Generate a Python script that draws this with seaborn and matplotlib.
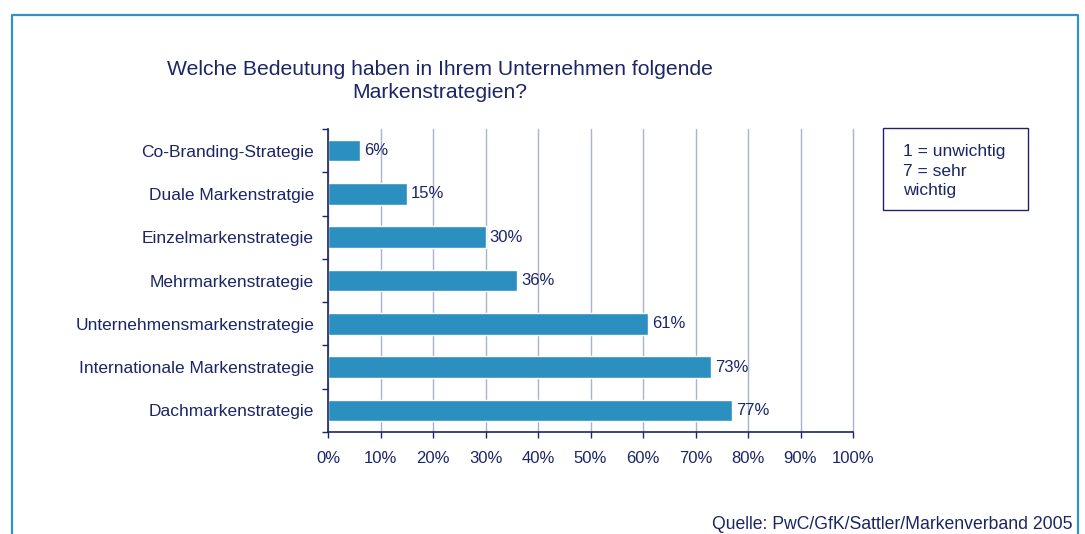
import matplotlib
matplotlib.use("Agg")
import matplotlib.pyplot as plt
import seaborn as sns
from matplotlib.lines import Line2D
from matplotlib.patches import Rectangle

categories = [
    "Co-Branding-Strategie",
    "Duale Markenstratgie",
    "Einzelmarkenstrategie",
    "Mehrmarkenstrategie",
    "Unternehmensmarkenstrategie",
    "Internationale Markenstrategie",
    "Dachmarkenstrategie",
]
values = [6, 15, 30, 36, 61, 73, 77]
x_ticks = [0, 10, 20, 30, 40, 50, 60, 70, 80, 90, 100]
title = "Welche Bedeutung haben in Ihrem Unternehmen folgende\nMarkenstrategien?"
legend_text = "1 = unwichtig\n7 = sehr\nwichtig"
source = "Quelle: PwC/GfK/Sattler/Markenverband 2005"

W, H = 1085, 534
navy = "#1c2566"
bar_col = "#2b8fc0"
grid_col = "#aab2cc"

sns.set_theme(style="white")
plt.rcParams["font.family"] = ["Liberation Sans", "DejaVu Sans"]


def fx(x):
    return x / W


def fy(y):
    return 1 - y / H


fig = plt.figure(figsize=(W / 100, H / 100), dpi=100)
ax = fig.add_axes([fx(328), fy(432), fx(853) - fx(328), fy(129) - fy(432)])

sns.barplot(x=values, y=categories, color=bar_col, width=0.5, orient="h",
            saturation=1, ax=ax)

ax.set_xlim(0, 100)
ax.set_ylim(len(categories) - 0.5, -0.5)
ax.set_xticks(x_ticks)
ax.set_xticklabels([f"{t}%" for t in x_ticks])
ax.set_xlabel("")
ax.set_ylabel("")
ax.xaxis.grid(True, color=grid_col, linewidth=1)
ax.yaxis.grid(False)
ax.set_axisbelow(True)
for gl in ax.get_xgridlines():
    gl.set_clip_on(False)

for side in ["top", "right"]:
    ax.spines[side].set_visible(False)
for side in ["left", "bottom"]:
    ax.spines[side].set_color(navy)
    ax.spines[side].set_linewidth(1.2)

ax.set_yticks([i - 0.5 for i in range(len(categories) + 1)], minor=True)
ax.tick_params(axis="y", which="major", length=0, pad=10, labelsize=12.5, labelcolor=navy)
ax.tick_params(axis="y", which="minor", length=4, color=navy, width=1, left=True)
ax.tick_params(axis="x", which="major", length=4, color=navy, width=1, bottom=True,
               pad=10, labelsize=12, labelcolor=navy)

for c in ax.containers:
    ax.bar_label(c, labels=[f"{v}%" for v in values], padding=3, fontsize=12, color=navy)

fig.text(fx(440), fy(81), title, ha="center", va="center", fontsize=15.2,
         color=navy, linespacing=1.3)

# note box on the right
fig.patches.append(Rectangle((fx(883), fy(210)), fx(1028) - fx(883), fy(128) - fy(210),
                             transform=fig.transFigure, fill=False, edgecolor=navy,
                             linewidth=1))
fig.text(fx(903), fy(171), legend_text, ha="left", va="center", fontsize=12.5,
         color=navy, linespacing=1.4)

# source line sits at the very bottom, nudged up so descenders stay inside
fig.text(fx(1073), fy(529), source, ha="right", va="baseline", fontsize=12.7, color=navy)

# outer frame, open at the bottom
frame = Line2D([fx(12), fx(12), fx(1078), fx(1078)], [fy(540), fy(15), fy(15), fy(540)],
               transform=fig.transFigure, color="#3392c4", linewidth=1.6)
fig.lines.append(frame)

fig.savefig("out.png", dpi=100)
